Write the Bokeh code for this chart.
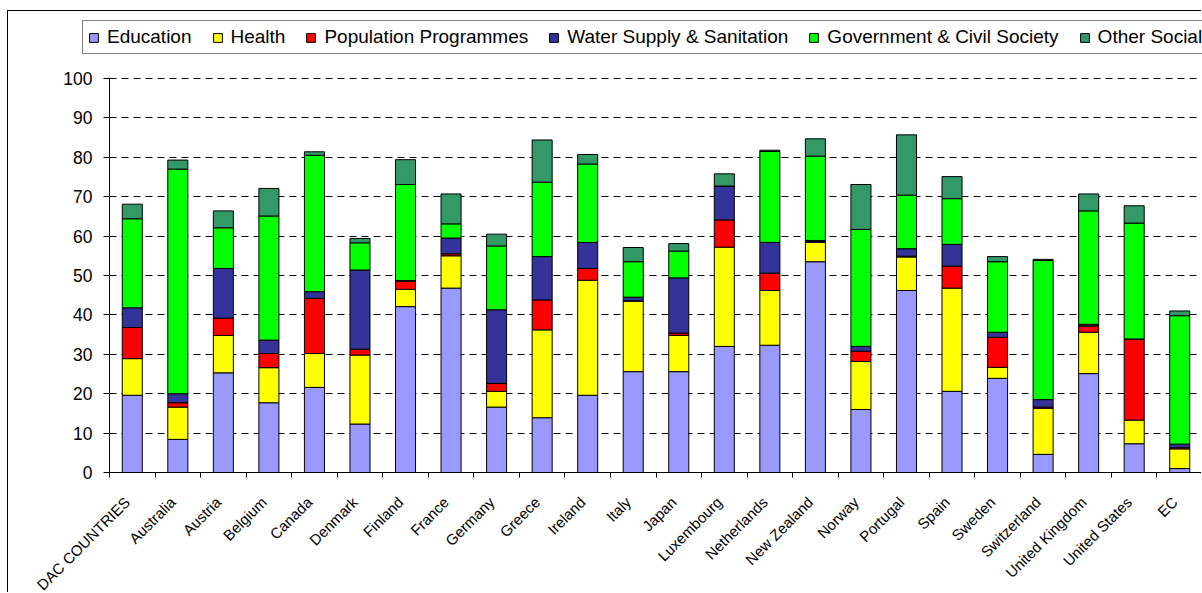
import math
from bokeh.plotting import figure
from bokeh.models import (ColumnDataSource, Range1d, LinearAxis, FixedTicker, Legend,
                          LegendItem, Grid, LabelSet)
from bokeh.core.properties import value
from bokeh.embed import file_html
from bokeh.resources import INLINE

categories = ["DAC COUNTRIES", "Australia", "Austria", "Belgium", "Canada", "Denmark",
              "Finland", "France", "Germany", "Greece", "Ireland", "Italy", "Japan",
              "Luxembourg", "Netherlands", "New Zealand", "Norway", "Portugal", "Spain",
              "Sweden", "Switzerland", "United Kingdom", "United States", "EC"]

education  = [19.6, 8.4, 25.3, 17.7, 21.6, 12.3, 42.1, 46.8, 16.6, 13.9, 19.6, 25.6, 25.6,
              32.0, 32.3, 53.5, 16.0, 46.2, 20.6, 23.9, 4.6, 25.1, 7.3, 1.0]
health     = [9.3, 8.2, 9.5, 8.9, 8.6, 17.5, 4.4, 8.2, 4.0, 22.3, 29.2, 17.9, 9.2,
              25.2, 13.9, 4.9, 12.2, 8.5, 26.2, 2.8, 11.7, 10.5, 6.0, 5.0]
population = [7.9, 1.1, 4.4, 3.6, 14.0, 1.5, 2.1, 0.5, 2.0, 7.6, 3.0, 0.1, 0.6,
              6.9, 4.4, 0.2, 2.6, 0.2, 5.6, 7.6, 0.3, 1.6, 20.6, 0.3]
water      = [5.0, 2.3, 12.6, 3.4, 1.7, 20.1, 0.1, 4.0, 18.7, 11.0, 6.6, 0.9, 14.0,
              8.6, 7.8, 0.3, 1.2, 1.9, 5.5, 1.3, 1.9, 0.4, 0.0, 0.9]
government = [22.6, 57.0, 10.3, 31.5, 34.6, 6.9, 24.4, 3.6, 16.2, 18.9, 19.9, 9.0, 6.8,
              0.0, 23.1, 21.4, 29.7, 13.6, 11.6, 17.9, 35.3, 28.8, 29.4, 32.6]
other      = [3.7, 2.3, 4.3, 7.0, 0.9, 1.1, 6.3, 7.6, 3.0, 10.7, 2.4, 3.6, 1.9,
              3.1, 0.3, 4.4, 11.4, 15.3, 5.6, 1.3, 0.3, 4.3, 4.4, 1.2]

series_names = ["Education", "Health", "Population Programmes", "Water Supply & Sanitation",
                "Government & Civil Society", "Other Social Infrastructure & Services"]
series_keys = ["edu", "hea", "pop", "wat", "gov", "oth"]
colors = ["#9999FF", "#FFFF00", "#FF0000", "#333399", "#00FF00", "#339966"]
y_ticks = list(range(0, 101, 10))

FONT = "Liberation Sans"
n = len(categories)

# canvas geometry (px): canvas 1194 x 582; plot area of the chart from x=101..1194, y=67..461
W, H = 1194, 582
PL, PT, PB = 101, 67, 461
px_per_cat = (W - PL) / n
px_per_unit = (PB - PT) / 100.0
x_start = -0.5 - PL / px_per_cat
y_end = 100 + PT / px_per_unit
y_start = -(H - PB) / px_per_unit

source = ColumnDataSource(dict(
    x=list(range(n)),
    edu=education, hea=health, pop=population, wat=water, gov=government, oth=other,
))

p = figure(width=W, height=H, x_range=Range1d(x_start, n - 0.5),
           y_range=Range1d(y_start, y_end), output_backend="svg", toolbar_location=None,
           x_axis_type=None, y_axis_type=None,
           min_border_left=0, min_border_right=0, min_border_top=0, min_border_bottom=0)
p.outline_line_color = None
p.background_fill_color = "white"
p.border_fill_color = "white"
p.styles = {"border-top": "1px solid #000", "border-left": "1px solid #000",
            "margin-left": "7px", "margin-top": "10px"}

# y axis
yaxis = LinearAxis(ticker=FixedTicker(ticks=y_ticks), fixed_location=-0.5, bounds=(0, 100))
yaxis.axis_line_color = "black"
yaxis.major_tick_line_color = "black"
yaxis.major_tick_out = 6
yaxis.major_tick_in = 0
yaxis.minor_tick_line_color = None
yaxis.major_label_standoff = 11
yaxis.major_label_text_font = FONT
yaxis.major_label_text_font_size = "17.5px"
yaxis.major_label_text_color = "black"
p.add_layout(yaxis, "left")

# dashed horizontal gridlines across the plot area
grid = Grid(dimension=1, ticker=yaxis.ticker)
grid.grid_line_color = "black"
grid.grid_line_dash = "7 5"
grid.grid_line_width = 1
if "cross_bounds" in Grid.properties():
    grid.cross_bounds = (-0.5, n - 0.5)
    p.add_layout(grid)
else:
    gl = ColumnDataSource(dict(y=y_ticks[1:]))
    p.segment(x0=-0.5, x1=n - 0.5, y0="y", y1="y", source=gl, line_color="black",
              line_dash="7 5", line_width=1, level="underlay")

# x axis: tick marks on category boundaries
xaxis = LinearAxis(ticker=FixedTicker(ticks=[i - 0.5 for i in range(n + 1)]),
                   fixed_location=0, bounds=(-0.5, n - 0.5))
xaxis.axis_line_color = "black"
xaxis.major_tick_line_color = "black"
xaxis.major_tick_out = 5
xaxis.major_tick_in = 0
xaxis.minor_tick_line_color = None
xaxis.major_label_text_color = None
xaxis.major_label_text_font_size = "0px"
p.add_layout(xaxis, "below")

renderers = p.vbar_stack(series_keys, x="x", width=0.44, color=colors, source=source,
                         line_color="black", line_width=1)

# category names, rotated 45 degrees, ending under each bar
label_src = ColumnDataSource(dict(x=list(range(n)), y=[-6.85] * n, text=categories))
labels = LabelSet(x="x", y="y", text="text", source=label_src, angle=45, angle_units="deg",
                  x_offset=-5, text_align="right", text_baseline="middle",
                  text_font=value(FONT), text_font_size="15px", text_color="black")
p.add_layout(labels)

items = [LegendItem(label=s, renderers=[r]) for s, r in zip(series_names, renderers)]
legend = Legend(items=items, orientation="horizontal", location=(74, H - 43))
legend.border_line_color = "black"
legend.border_line_width = 1
legend.background_fill_color = "white"
legend.background_fill_alpha = 1
legend.padding = 5
legend.margin = 0
legend.spacing = 20
legend.label_standoff = 8
legend.glyph_width = 11
legend.glyph_height = 11
legend.label_text_font = FONT
legend.label_text_font_size = "19px"
legend.label_text_color = "black"
p.add_layout(legend)

open("out.html", "w").write(file_html(p, INLINE))
